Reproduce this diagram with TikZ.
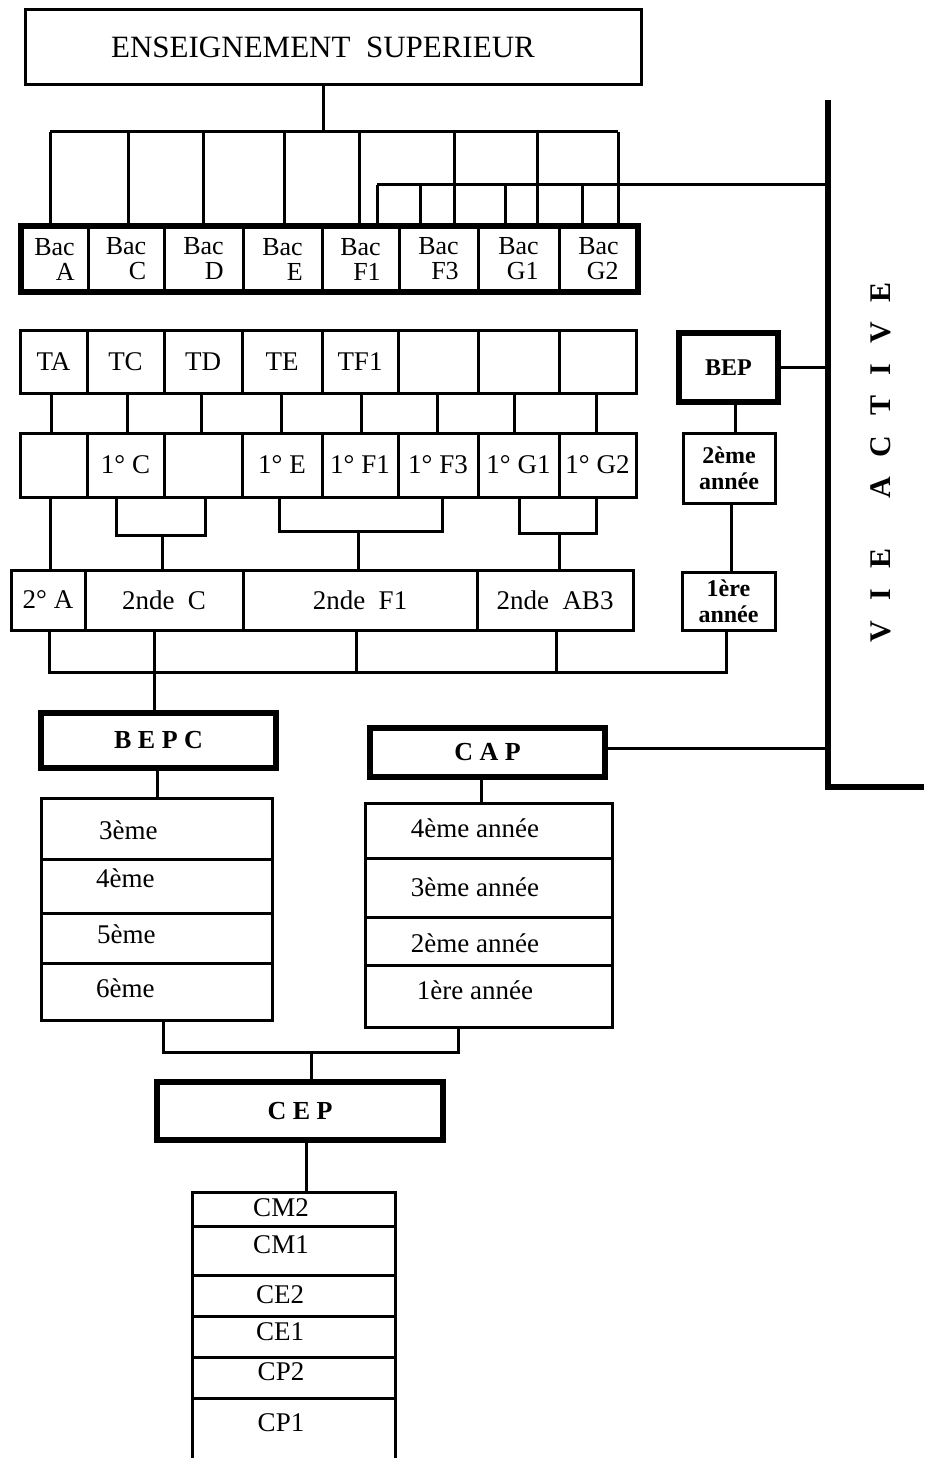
\documentclass[tikz,border=0pt]{standalone}
\usepackage{fontspec}
\setmainfont{Liberation Serif}
\usetikzlibrary{positioning,calc}

\newcommand{\supfont}{\fontsize{31}{34}\selectfont}
\newcommand{\lblfont}{\fontsize{27}{29}\selectfont}
\newcommand{\bacfont}{\fontsize{26}{25}\selectfont}
\newcommand{\bepfont}{\fontsize{24}{26}\selectfont\bfseries}
\newcommand{\headfont}{\fontsize{26}{28}\selectfont\bfseries}
\newcommand{\vafont}{\fontsize{30}{32}\selectfont\bfseries}

\begin{document}
\begin{tikzpicture}[x=1pt,y=-1pt,
  link/.style={line width=3pt},
  heavy/.style={line width=6pt},
  box/.style={draw, line width=3pt, inner sep=0pt, align=center, font=\lblfont},
  hbox/.style={draw, line width=6pt, inner sep=0pt, align=center, font=\headfont},
  lbl/.style={inner sep=0pt, font=\lblfont}]
  \useasboundingbox (0,0) rectangle (924,1458);

  %--- Enseignement superieur ---
  \node[box, font=\supfont, minimum width=616pt, minimum height=75pt] (sup) at (333,47.5) {ENSEIGNEMENT\ \ SUPERIEUR\hspace*{20pt}};

  %--- Bac row ---
  \node[box, font=\bacfont, align=right, minimum width=67pt, minimum height=66pt] (bacA) at (54.5,259) {Bac\\A};
  \node[box, font=\bacfont, align=right, minimum width=76pt, minimum height=66pt] (bacC) at (126,259) {Bac\\C};
  \node[box, font=\bacfont, align=right, minimum width=79pt, minimum height=66pt] (bacD) at (203.5,259) {Bac\\D};
  \node[box, font=\bacfont, align=right, minimum width=79pt, minimum height=66pt] (bacE) at (282.5,259) {Bac\\E};
  \node[box, font=\bacfont, align=right, minimum width=77pt, minimum height=66pt] (bacF1) at (360.5,259) {Bac\\F1};
  \node[box, font=\bacfont, align=right, minimum width=79pt, minimum height=66pt] (bacF3) at (438.5,259) {Bac\\F3};
  \node[box, font=\bacfont, align=right, minimum width=81pt, minimum height=66pt] (bacG1) at (518.5,259) {Bac\\G1};
  \node[box, font=\bacfont, align=right, minimum width=79pt, minimum height=66pt] (bacG2) at (598.5,259) {Bac\\G2};
  \node[hbox, minimum width=617pt, minimum height=66pt] (bacrow) at (329.5,259) {};

  %--- Vie active ---
  \coordinate (vatop) at (828,100);
  \coordinate (vabot) at (828,787);
  \coordinate (vaend) at (924,787);
  \draw[heavy] (vatop) -- (vabot) -- (vaend);
  \node[font=\vafont, rotate=90] (va) at (881,462) {V\hspace{20pt}I\hspace{20pt}E\hspace{50pt}A\hspace{20pt}C\hspace{20pt}T\hspace{20pt}I\hspace{20pt}V\hspace{20pt}E};

  % upper bracket
  \coordinate (hub) at (323,132);
  \coordinate (dA) at (50,132);
  \coordinate (dC) at (128,132);
  \coordinate (dD) at (203,132);
  \coordinate (dE) at (284,132);
  \coordinate (dF1) at (359,132);
  \coordinate (dF3) at (454,132);
  \coordinate (dG1) at (537,132);
  \coordinate (dG2) at (618,132);
  \draw[link] (sup.south -| hub) -- (hub);
  \draw[link] (dA) -- (dG2);
  \draw[link] (dA) -- (dA |- bacA.north);
  \draw[link] (dC) -- (dC |- bacC.north);
  \draw[link] (dD) -- (dD |- bacD.north);
  \draw[link] (dE) -- (dE |- bacE.north);
  \draw[link] (dF1) -- (dF1 |- bacF1.north);
  \draw[link] (dF3) -- (dF3 |- bacF3.north);
  \draw[link] (dG1) -- (dG1 |- bacG1.north);
  \draw[link] (dG2) -- (dG2 |- bacG2.north);

  % lower bracket to vie active
  \coordinate (eF1) at (377,185);
  \coordinate (eF3) at (420,185);
  \coordinate (eG1) at (505,185);
  \coordinate (eG2) at (582,185);
  \draw[link] (eF1) -- (eF1 -| vatop);
  \draw[link] (eF1) -- (eF1 |- bacF1.north);
  \draw[link] (eF3) -- (eF3 |- bacF3.north);
  \draw[link] (eG1) -- (eG1 |- bacG1.north);
  \draw[link] (eG2) -- (eG2 |- bacG2.north);

  %--- Terminales ---
  \node[box, minimum width=67pt, minimum height=63pt] (tA) at (53.5,361.5) {TA};
  \node[box, minimum width=77pt, minimum height=63pt] (tC) at (125.5,361.5) {TC};
  \node[box, minimum width=78pt, minimum height=63pt] (tD) at (203,361.5) {TD};
  \node[box, minimum width=80pt, minimum height=63pt] (tE) at (282,361.5) {TE};
  \node[box, minimum width=76pt, minimum height=63pt] (tF1) at (360,361.5) {TF1};
  \node[box, minimum width=80pt, minimum height=63pt] (tF3) at (438,361.5) {};
  \node[box, minimum width=81pt, minimum height=63pt] (tG1) at (518.5,361.5) {};
  \node[box, minimum width=77pt, minimum height=63pt] (tG2) at (597.5,361.5) {};

  %--- Premieres ---
  \node[box, minimum width=67pt, minimum height=64pt] (pA) at (53.5,465) {};
  \node[box, minimum width=77pt, minimum height=64pt] (pC) at (125.5,465) {1° C};
  \node[box, minimum width=78pt, minimum height=64pt] (pD) at (203,465) {};
  \node[box, minimum width=80pt, minimum height=64pt] (pE) at (282,465) {1° E};
  \node[box, minimum width=76pt, minimum height=64pt] (pF1) at (360,465) {1° F1};
  \node[box, minimum width=80pt, minimum height=64pt] (pF3) at (438,465) {1° F3};
  \node[box, minimum width=81pt, minimum height=64pt] (pG1) at (518.5,465) {1° G1};
  \node[box, minimum width=77pt, minimum height=64pt] (pG2) at (597.5,465) {1° G2};

  \draw[link] ([xshift=-2.5pt]tA.south) -- ([xshift=-2.5pt]pA.north);
  \draw[link] ([xshift=1.5pt]tC.south) -- ([xshift=1.5pt]pC.north);
  \draw[link] ([xshift=-2pt]tD.south) -- ([xshift=-2pt]pD.north);
  \draw[link] ([xshift=-1pt]tE.south) -- ([xshift=-1pt]pE.north);
  \draw[link] ([xshift=1pt]tF1.south) -- ([xshift=1pt]pF1.north);
  \draw[link] ([xshift=-1pt]tF3.south) -- ([xshift=-1pt]pF3.north);
  \draw[link] ([xshift=-4.5pt]tG1.south) -- ([xshift=-4.5pt]pG1.north);
  \draw[link] ([xshift=-1.5pt]tG2.south) -- ([xshift=-1.5pt]pG2.north);

  %--- Secondes ---
  \node[box, minimum width=74pt, minimum height=60pt] (sA) at (48,600) {2° A};
  \node[box, minimum width=158pt, minimum height=60pt] (sC) at (164,600) {2nde~~C};
  \node[box, minimum width=234pt, minimum height=60pt] (sF1) at (360,600) {2nde~~F1};
  \node[box, minimum width=156pt, minimum height=60pt] (sAB) at (555,600) {2nde~~AB3};

  \coordinate (jC) at (162,535);
  \coordinate (jF) at (358,531);
  \coordinate (jG) at (559,533);
  \draw[link] ([xshift=2pt]pA.south -| sA.north) -- ([xshift=2pt]sA.north);
  \draw[link] ([xshift=-9.5pt]pC.south) |- (jC) -| ([xshift=2pt]pD.south);
  \draw[link] ([xshift=-3pt]pE.south) |- (jF) -| ([xshift=4pt]pF3.south);
  \draw[link] ([xshift=0.5pt]pG1.south) |- (jG) -| ([xshift=-1.5pt]pG2.south);
  \draw[link] (jC) -- (jC |- sC.north);
  \draw[link] (jF) -- (jF |- sF1.north);
  \draw[link] (jG) -- (jG |- sAB.north);

  %--- BEP branch ---
  \node[hbox, font=\bepfont, minimum width=99pt, minimum height=69pt] (bep) at (728.5,367.5) {BEP};
  \node[box, font=\bepfont, minimum width=92pt, minimum height=70pt] (bep2) at (729,468) {2ème\\année};
  \node[box, font=\bepfont, minimum width=93pt, minimum height=58pt] (bep1) at (728.5,601) {1ère\\année};
  \draw[link] (bep.east) -- (bep.east -| vatop);
  \draw[link] ([xshift=6.5pt]bep.south) -- ([xshift=6.5pt]bep.south |- bep2.north);
  \draw[link] ([xshift=2pt]bep2.south) -- ([xshift=2pt]bep2.south |- bep1.north);

  % bracket under secondes
  \coordinate (jB) at (154,672);
  \draw[link] ([xshift=1pt]sA.south) |- (jB) -| ([xshift=-2.5pt]bep1.south);
  \draw[link] ([xshift=-10pt]sC.south) -- (jB);
  \draw[link] ([xshift=-4pt]sF1.south) -- ([xshift=-4pt]sF1.south |- jB);
  \draw[link] ([xshift=1pt]sAB.south) -- ([xshift=1pt]sAB.south |- jB);

  %--- BEPC and CAP ---
  \node[hbox, minimum width=235pt, minimum height=55pt] (bepc) at (158.5,740.5) {B E P C};
  \node[hbox, minimum width=235pt, minimum height=49pt] (cap) at (487.5,752.5) {C A P};
  \draw[link] (jB) -- (jB |- bepc.north);
  \draw[link] ([yshift=4.5pt]cap.east) -- ([yshift=4.5pt]cap.east -| vatop);

  % college
  \node[box, minimum width=231pt, minimum height=61pt] (b3) at (156.5,828.5) {};
  \node[box, minimum width=231pt, minimum height=54pt] (b4) at (156.5,886) {};
  \node[box, minimum width=231pt, minimum height=50pt] (b5) at (156.5,938) {};
  \node[box, minimum width=231pt, minimum height=57pt] (b6) at (156.5,991.5) {};
  \node[lbl, anchor=west] (l3) at (99,830) {3ème};
  \node[lbl, anchor=west] (l4) at (96,878) {4ème};
  \node[lbl, anchor=west] (l5) at (97,934) {5ème};
  \node[lbl, anchor=west] (l6) at (96,988) {6ème};
  \draw[link] ([xshift=-1.5pt]bepc.south) -- ([xshift=-1.5pt]bepc.south |- b3.north);

  % apprentissage
  \node[box, minimum width=247pt, minimum height=55pt] (c4) at (488.5,830.5) {};
  \node[box, minimum width=247pt, minimum height=59pt] (c3) at (488.5,887.5) {};
  \node[box, minimum width=247pt, minimum height=48pt] (c2) at (488.5,941) {};
  \node[box, minimum width=247pt, minimum height=62pt] (c1) at (488.5,996) {};
  \node[lbl] (k4) at (475,828) {4ème année};
  \node[lbl] (k3) at (475,887) {3ème année};
  \node[lbl] (k2) at (475,943) {2ème année};
  \node[lbl] (k1) at (475,990) {1ère année};
  \draw[link] ([xshift=-6.5pt]cap.south) -- ([xshift=-6.5pt]cap.south |- c4.north);

  %--- CEP ---
  \node[hbox, minimum width=286pt, minimum height=58pt] (cep) at (300,1111) {C E P};
  \coordinate (jP) at (311,1052);
  \draw[link] ([xshift=6.5pt]b6.south) |- (jP) -| ([xshift=-30.5pt]c1.south);
  \draw[link] (jP) -- (jP |- cep.north);

  % primaire
  \node[box, minimum width=203pt, minimum height=34pt] (cm2) at (293.5,1209) {};
  \node[box, minimum width=203pt, minimum height=49pt] (cm1) at (293.5,1250.5) {};
  \node[box, minimum width=203pt, minimum height=41pt] (ce2) at (293.5,1295.5) {};
  \node[box, minimum width=203pt, minimum height=41pt] (ce1) at (293.5,1336.5) {};
  \node[box, minimum width=203pt, minimum height=41pt] (cp2) at (293.5,1377.5) {};
  \node[box, minimum width=203pt, minimum height=80pt] (cp1) at (293.5,1438) {};
  \node[lbl] (m2) at (281,1208) {CM2};
  \node[lbl] (m1) at (281,1245) {CM1};
  \node[lbl] (e2) at (280,1295) {CE2};
  \node[lbl] (e1) at (280,1332) {CE1};
  \node[lbl] (p2) at (281,1372) {CP2};
  \node[lbl] (p1) at (281,1423) {CP1};
  \draw[link] ([xshift=6pt]cep.south) -- ([xshift=6pt]cep.south |- cm2.north);
\end{tikzpicture}
\end{document}
